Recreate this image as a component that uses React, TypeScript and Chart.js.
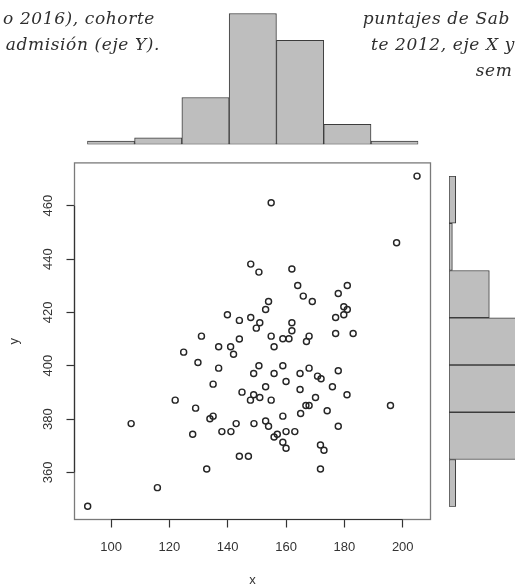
import React, { useEffect, useRef } from "react";
import { Chart, registerables } from "chart.js";

Chart.register(...registerables);

// Scatter data: x score and y score per student
const xValues = [
  92.0, 106.9, 115.9, 122.0, 124.9, 128.0, 129.0, 129.8, 131.0, 132.8,
  133.9, 135.0, 135.0, 136.9, 136.9, 138.0, 139.9, 141.0, 141.1, 142.0,
  142.9, 144.0, 144.0, 144.0, 144.9, 147.1, 147.8, 147.9, 147.9, 148.9,
  148.9, 149.0, 149.8, 150.7, 150.7, 151.0, 151.0, 153.0, 153.0, 153.0,
  154.0, 154.0, 154.9, 154.9, 154.9, 155.9, 155.9, 155.9, 157.0, 158.9,
  158.9, 158.9, 158.9, 160.0, 160.0, 160.0, 161.0, 162.0, 162.0, 162.0,
  163.0, 164.0, 164.8, 164.8, 165.0, 165.9, 166.8, 167.0, 167.9, 167.9,
  167.9, 169.0, 170.1, 170.8, 171.8, 171.8, 172.0, 173.0, 174.1, 175.9,
  177.0, 177.0, 177.9, 177.9, 177.9, 179.8, 179.8, 180.9, 181.0, 181.0,
  183.0, 195.8, 197.9, 204.9,
];
const yValues = [
  347.3, 378.3, 354.3, 387.1, 405.1, 374.3, 384.1, 401.2, 411.1, 361.3,
  380.1, 381.1, 393.1, 399.1, 407.1, 375.3, 419.1, 407.1, 375.3, 404.3,
  378.3, 366.1, 410.0, 417.0, 390.1, 366.1, 387.1, 438.1, 418.1, 397.1,
  389.1, 378.3, 414.1, 435.1, 400.0, 416.1, 388.1, 392.1, 421.1, 379.3,
  424.1, 377.3, 461.1, 387.1, 411.1, 397.1, 407.1, 373.3, 374.3, 400.0,
  410.1, 381.1, 371.3, 394.1, 375.3, 369.1, 410.1, 436.3, 416.1, 413.1,
  375.3, 430.1, 397.1, 391.1, 382.1, 426.1, 385.1, 409.1, 399.1, 411.1,
  385.1, 424.1, 388.1, 396.1, 370.3, 361.3, 395.1, 368.3, 383.1, 392.1,
  418.1, 412.1, 427.1, 398.1, 377.3, 422.1, 419.1, 389.1, 430.1, 421.1,
  412.1, 385.1, 446.1, 471.1,
];

// Histogram break points for the marginal plots
const xBreaks = [80, 100, 120, 140, 160, 180, 200, 220];
const yBreaks = [340, 360, 380, 400, 420, 440, 460, 480];

// Axis ticks and titles
const xTicks = [100, 120, 140, 160, 180, 200];
const yTicks = [360, 380, 400, 420, 440, 460];
const xTitle = "x";
const yTitle = "y";

// Surrounding caption text
const noteLeft = ["o 2016), cohorte", "admisión (eje Y)."];
const noteRight = ["puntajes de Sab", "te 2012, eje X y", "sem"];

// Right-closed bins, lowest bin also includes its lower edge
function binCounts(values: number[], breaks: number[]): number[] {
  const counts = new Array(breaks.length - 1).fill(0);
  values.forEach((v) => {
    for (let i = 0; i < breaks.length - 1; i++) {
      const inside =
        (v > breaks[i] || (i === 0 && v === breaks[0])) && v <= breaks[i + 1];
      if (inside) {
        counts[i] += 1;
        break;
      }
    }
  });
  return counts;
}

function binLabels(breaks: number[]): string[] {
  return breaks.slice(0, -1).map((b, i) => `${b}-${breaks[i + 1]}`);
}

const AXIS_FONT = "'Liberation Sans', Arial, sans-serif";
const INK = "#333333";
const POINT_INK = "#262626";
const BAR_FILL = "#bebebe";
const BAR_EDGE = "#3c3c3c";
const PX_PER_COUNT = 3.36;

const framePlugin = {
  id: "frame",
  afterDraw(chart: any) {
    const { ctx, chartArea } = chart;
    const xs = chart.scales.x;
    const ys = chart.scales.y;
    ctx.save();
    // plot box
    ctx.strokeStyle = "#7a7a7a";
    ctx.lineWidth = 1.3;
    ctx.strokeRect(
      chartArea.left,
      chartArea.top,
      chartArea.right - chartArea.left,
      chartArea.bottom - chartArea.top
    );
    // axis lines spanning the tick range
    ctx.strokeStyle = INK;
    ctx.lineWidth = 1.2;
    ctx.beginPath();
    ctx.moveTo(xs.getPixelForValue(xTicks[0]), chartArea.bottom);
    ctx.lineTo(xs.getPixelForValue(xTicks[xTicks.length - 1]), chartArea.bottom);
    ctx.moveTo(chartArea.left, ys.getPixelForValue(yTicks[0]));
    ctx.lineTo(chartArea.left, ys.getPixelForValue(yTicks[yTicks.length - 1]));
    ctx.stroke();
    // rotated y tick labels
    ctx.fillStyle = INK;
    ctx.font = `13px ${AXIS_FONT}`;
    ctx.textAlign = "center";
    ctx.textBaseline = "middle";
    yTicks.forEach((v) => {
      ctx.save();
      ctx.translate(chartArea.left - 26, ys.getPixelForValue(v));
      ctx.rotate(-Math.PI / 2);
      ctx.fillText(String(v), 0, 0);
      ctx.restore();
    });
    ctx.restore();
  },
};

function ScatterPanel() {
  const ref = useRef<HTMLCanvasElement | null>(null);
  useEffect(() => {
    if (!ref.current) return;
    const points = xValues.map((x, i) => ({ x, y: yValues[i] }));
    const chart = new Chart(ref.current, {
      type: "scatter",
      data: {
        datasets: [
          {
            data: points,
            pointStyle: "circle",
            pointRadius: 3,
            pointBorderWidth: 1.45,
            pointBorderColor: POINT_INK,
            pointBackgroundColor: "rgba(0,0,0,0)",
          },
        ],
      },
      options: {
        animation: false,
        responsive: false,
        events: [],
        layout: { padding: { top: 12.9, right: 19.5, left: 0, bottom: 0 } },
        plugins: { legend: { display: false }, tooltip: { enabled: false } },
        scales: {
          x: {
            type: "linear",
            min: 87.48,
            max: 209.52,
            afterBuildTicks: (s: any) => {
              s.ticks = xTicks.map((v) => ({ value: v }));
            },
            afterFit: (s: any) => {
              s.height = 68.5;
            },
            grid: {
              drawOnChartArea: false,
              drawTicks: true,
              tickLength: 8,
              tickColor: INK,
              tickWidth: 1.2,
            },
            border: { display: false },
            ticks: {
              padding: 12,
              color: INK,
              maxRotation: 0,
              autoSkip: false,
              font: { family: AXIS_FONT, size: 13 },
            },
            title: {
              display: true,
              text: xTitle,
              color: INK,
              font: { family: AXIS_FONT, size: 13 },
              padding: { top: 0, bottom: 0 },
            },
          },
          y: {
            type: "linear",
            min: 342.35,
            max: 476.05,
            afterBuildTicks: (s: any) => {
              s.ticks = yTicks.map((v) => ({ value: v }));
            },
            afterFit: (s: any) => {
              s.width = 74.5;
            },
            grid: {
              drawOnChartArea: false,
              drawTicks: true,
              tickLength: 8,
              tickColor: INK,
              tickWidth: 1.2,
            },
            border: { display: false },
            ticks: { display: false },
            title: {
              display: true,
              text: yTitle,
              color: INK,
              font: { family: AXIS_FONT, size: 13 },
              padding: { top: 7, bottom: 0 },
            },
          },
        },
      },
      plugins: [framePlugin],
    });
    return () => chart.destroy();
  }, []);
  return (
    <canvas
      ref={ref}
      width={450}
      height={438}
      style={{ position: "absolute", left: 0, top: 150, width: 450, height: 438 }}
    />
  );
}

function TopHistogram() {
  const ref = useRef<HTMLCanvasElement | null>(null);
  useEffect(() => {
    if (!ref.current) return;
    const counts = binCounts(xValues, xBreaks);
    const chart = new Chart(ref.current, {
      type: "bar",
      data: {
        labels: binLabels(xBreaks),
        datasets: [
          {
            data: counts,
            backgroundColor: BAR_FILL,
            borderColor: BAR_EDGE,
            borderWidth: 1,
            borderSkipped: false,
            barPercentage: 1,
            categoryPercentage: 1,
          },
        ],
      },
      options: {
        animation: false,
        responsive: false,
        events: [],
        layout: { padding: { left: 7.3, right: 6.7, top: 0, bottom: 5.5 } },
        plugins: { legend: { display: false }, tooltip: { enabled: false } },
        scales: {
          x: { display: false },
          y: { display: false, min: 0, max: 144.5 / PX_PER_COUNT },
        },
      },
    });
    return () => chart.destroy();
  }, []);
  return (
    <canvas
      ref={ref}
      width={345}
      height={150}
      style={{ position: "absolute", left: 80, top: 0, width: 345, height: 150 }}
    />
  );
}

function RightHistogram() {
  const ref = useRef<HTMLCanvasElement | null>(null);
  useEffect(() => {
    if (!ref.current) return;
    const counts = binCounts(yValues, yBreaks);
    const chart = new Chart(ref.current, {
      type: "bar",
      data: {
        labels: binLabels(yBreaks),
        datasets: [
          {
            data: counts,
            backgroundColor: BAR_FILL,
            borderColor: BAR_EDGE,
            borderWidth: 1,
            borderSkipped: false,
            barPercentage: 1,
            categoryPercentage: 1,
          },
        ],
      },
      options: {
        indexAxis: "y",
        animation: false,
        responsive: false,
        events: [],
        layout: { padding: { left: 9, right: 0, top: 6, bottom: 8.3 } },
        plugins: { legend: { display: false }, tooltip: { enabled: false } },
        scales: {
          y: { display: false, reverse: true },
          x: { display: false, min: 0, max: 66 / PX_PER_COUNT },
        },
      },
    });
    return () => chart.destroy();
  }, []);
  return (
    <canvas
      ref={ref}
      width={75}
      height={345}
      style={{ position: "absolute", left: 440, top: 170, width: 75, height: 345 }}
    />
  );
}

const noteStyle: React.CSSProperties = {
  position: "absolute",
  fontFamily: "'DejaVu Serif', serif",
  fontStyle: "italic",
  fontSize: 17,
  letterSpacing: "0.6px",
  lineHeight: "20px",
  color: "#2e2e2e",
  whiteSpace: "nowrap",
};

export default function App() {
  const rightStarts = [362.7, 371, 475.7];
  return (
    <div
      style={{
        position: "fixed",
        left: 0,
        top: 0,
        width: 515,
        height: 588,
        overflow: "hidden",
        background: "#ffffff",
      }}
    >
      <TopHistogram />
      <ScatterPanel />
      <RightHistogram />
      {noteLeft.map((t, i) => (
        <div
          key={`l${i}`}
          style={{ ...noteStyle, right: 515 - (i === 0 ? 155 : 160), top: 8 + i * 26, textAlign: "right" }}
        >
          {t}
        </div>
      ))}
      {noteRight.map((t, i) => (
        <div key={`r${i}`} style={{ ...noteStyle, left: rightStarts[i], top: 8 + i * 26 }}>
          {t}
        </div>
      ))}
    </div>
  );
}
